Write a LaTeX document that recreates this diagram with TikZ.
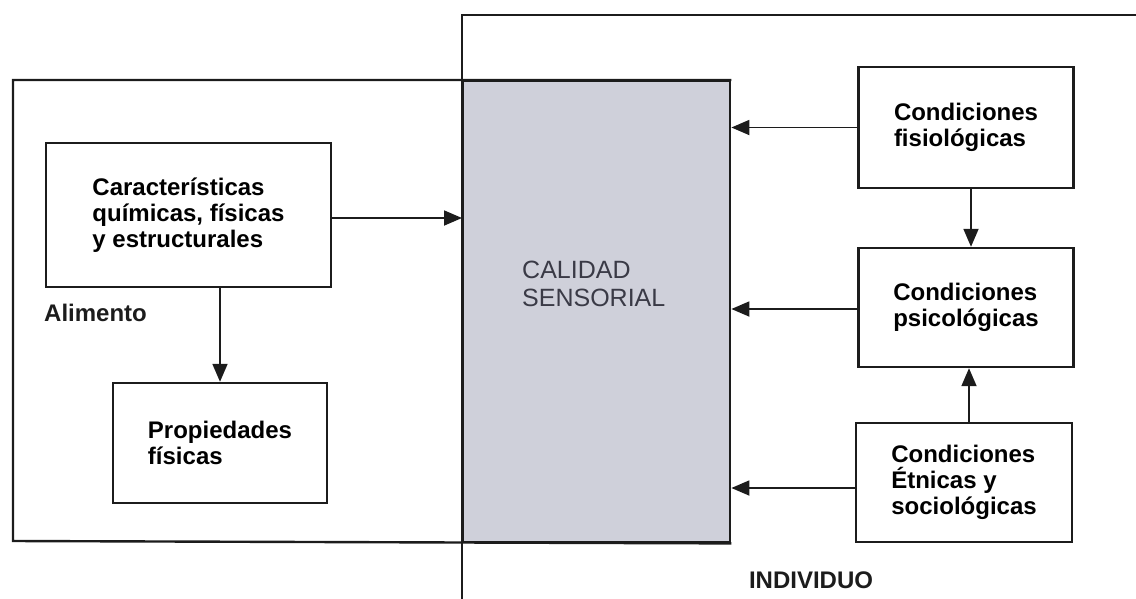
\documentclass[tikz,border=0pt]{standalone}
\usepackage{fontspec}
\setmainfont{Liberation Sans}
\usetikzlibrary{arrows.meta}
\definecolor{ink}{HTML}{1C1C1C}
\definecolor{calgray}{HTML}{CFD0DA}
\definecolor{caltext}{HTML}{3A3A46}
\tikzset{
  box/.style={draw=ink, line width=2.4pt, rectangle, align=left, inner sep=0pt,
    font=\fontsize{24}{26}\selectfont\bfseries},
  lbl/.style={inner sep=0pt, font=\fontsize{24}{26}\selectfont\bfseries, text=ink},
  conn/.style={draw=ink, line width=1.8pt, -{Triangle[length=18pt,width=15pt]}},
  frame/.style={draw=ink, line width=2.4pt},
}
\begin{document}
\begin{tikzpicture}[x=1pt,y=-1pt]
\useasboundingbox (0,0) rectangle (1136,598);
% gray central box
\node[draw=ink, fill=calgray, line width=2.4pt, minimum width=267pt, minimum height=461pt,
  anchor=north west, inner sep=0pt] (cal) at (462,80) {};
\node[anchor=west, align=left, inner sep=0pt, text=caltext,
  font=\fontsize{25}{28}\selectfont] (caltxt) at (522,284) {CALIDAD\\SENSORIAL};
% Alimento frame
\draw[frame] (cal.north east) -- (13,80) -- (13,541) -- (cal.south east);
% Individuo frame
\coordinate (indTR) at (1140,15);
\coordinate (indBL) at (462,602);
\draw[frame] (indTR) -- (indTR -| cal.west) -- (indBL);
% left boxes
\node[box, minimum width=285pt, minimum height=144pt] (carac) at (188.5,215)
  {Características\\químicas, físicas\\y estructurales};
\node[box, minimum width=214pt, minimum height=120pt] (prop) at (220,443)
  {Propiedades\\físicas};
\node[lbl, anchor=west] (alim) at (44,313) {Alimento};
% right boxes
\node[box, minimum width=215pt, minimum height=121pt] (fisio) at (966,127.5)
  {Condiciones\\fisiológicas};
\node[box, minimum width=215pt, minimum height=119pt] (psic) at (966,307.5)
  {Condiciones\\psicológicas};
\node[box, minimum width=216pt, minimum height=119pt] (etn) at (964,482.5)
  {Condiciones\\Étnicas y\\sociológicas};
\node[lbl] (indiv) at (811,580) {INDIVIDUO};
% connectors
\draw[conn] ([yshift=-3pt]carac.east) -- ([yshift=-3pt]carac.east -| cal.west);
\draw[conn] (prop.north |- carac.south) -- (prop.north);
\draw[conn] (fisio.west) -- (fisio.west -| cal.east);
\draw[conn] ([yshift=-1.5pt]psic.west) -- ([yshift=-1.5pt]psic.west -| cal.east);
\draw[conn] ([yshift=-5.5pt]etn.west) -- ([yshift=-5.5pt]etn.west -| cal.east);
\draw[conn] ([xshift=5pt]fisio.south) -- ([xshift=5pt]fisio.south |- psic.north);
\draw[conn] ([xshift=5pt]etn.north) -- ([xshift=5pt]etn.north |- psic.south);
\end{tikzpicture}
\end{document}
